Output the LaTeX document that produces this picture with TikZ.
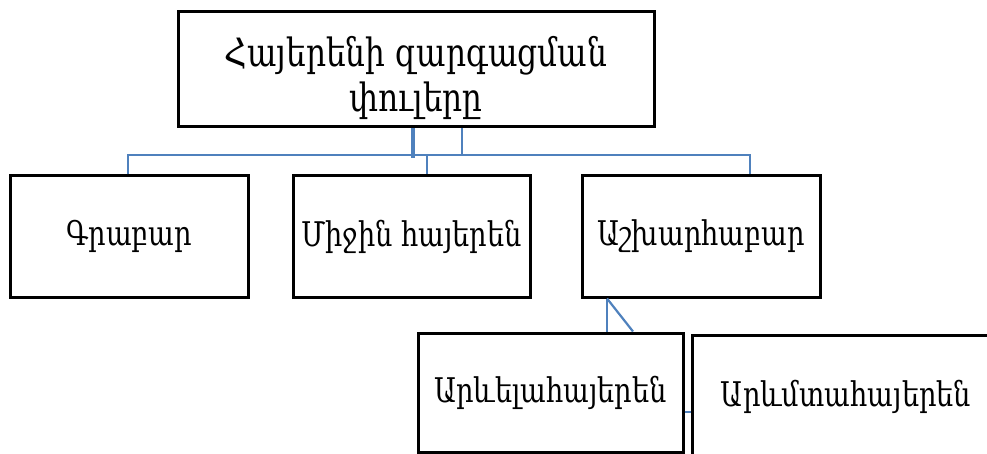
\documentclass[tikz,border=0pt]{standalone}
\usepackage{fontspec}
\usepackage{xcolor}
\newfontfamily\armfont[Script=Armenian,FakeStretch=0.8]{DejaVu Serif}
\definecolor{linkblue}{RGB}{79,129,189}
\begin{document}
\begin{tikzpicture}[x=1pt,y=-1pt,
    box/.style={draw=black, line width=3pt, fill=white, inner sep=0pt, align=center,
        font=\armfont\fontsize{34}{46}\selectfont},
    conn/.style={draw=linkblue, line width=2.2pt}]
        \useasboundingbox (0,0) rectangle (987,454);
        \clip (0,0) rectangle (987,454);
        \node[box, minimum width=476pt, minimum height=115pt, text height=92pt,
            font=\armfont\fontsize{39}{45}\selectfont] (phases) at (416,69.5) {Հայերենի զարգացման\\փուլերը};
        \node[box, minimum width=238pt, minimum height=121pt] (grabar) at (129,236.5) {Գրաբար};
        \node[box, minimum width=237pt, minimum height=121pt] (mijin) at (411.5,236.5) {Միջին հայերեն};
        \node[box, minimum width=238pt, minimum height=121pt] (ashkh) at (701,236.5) {Աշխարհաբար};
        \node[box, minimum width=265pt, minimum height=119pt] (arevel) at (550.5,392.5) {Արևելահայերեն};
        \node[box, minimum width=308pt, minimum height=124pt] (arevm) at (846,397) {Արևմտահայերեն};
        \coordinate (hub) at (413,155);
        \coordinate (hubend) at (413,158);
        \coordinate (hubr) at (462,155);
        \coordinate (left) at (128,155);
        \coordinate (mid) at (427,155);
        \coordinate (right) at (750,155);
        \coordinate (fork) at (607,0);
        \coordinate (forkend) at (633,0);
        \coordinate (side) at (0,412);
        \draw[conn, line width=4pt] (phases.south -| hub) -- (hubend);
        \draw[conn] (phases.south -| hubr) -- (hubr);
        \draw[conn] (grabar.north -| left) -- (left) -- (right) -- (ashkh.north -| right);
        \draw[conn] (hub) -- (mid) -- (mijin.north -| mid);
        \draw[conn] (ashkh.south -| fork) -- (arevel.north -| fork);
        \draw[conn] (ashkh.south -| fork) -- (arevel.north -| forkend);
        \draw[conn] (arevel.east |- side) -- (arevm.west |- side);
    \end{tikzpicture}
\end{document}
